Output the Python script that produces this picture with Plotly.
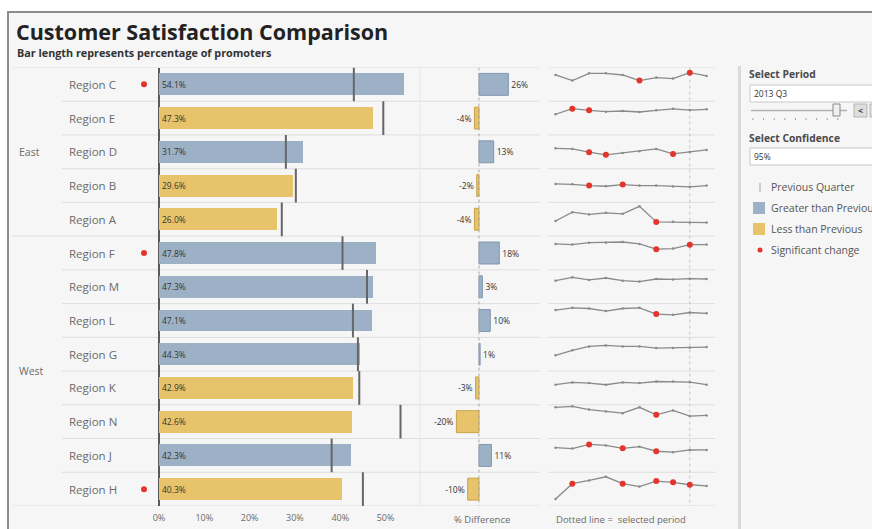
import plotly.graph_objects as go

W, H = 872, 529

# ---------------- data ----------------
regions = ["Region C", "Region E", "Region D", "Region B", "Region A",
           "Region F", "Region M", "Region L", "Region G", "Region K",
           "Region N", "Region J", "Region H"]
groups = ["East", "West"]
group_sizes = [5, 8]
current = [54.1, 47.3, 31.7, 29.6, 26.0, 47.8, 47.3, 47.1, 44.3, 42.9, 42.6, 42.3, 40.3]
previous = [43.0, 49.5, 28.0, 30.2, 27.1, 40.5, 45.9, 42.8, 43.9, 44.2, 53.3, 38.1, 45.0]
pct_diff = [26, -4, 13, -2, -4, 18, 3, 10, 1, -3, -20, 11, -10]
significant = [True, False, False, False, False, True, False, False, False, False, False, False, True]
quarters = ["2011 Q3", "2011 Q4", "2012 Q1", "2012 Q2", "2012 Q3",
            "2012 Q4", "2013 Q1", "2013 Q2", "2013 Q3", "2013 Q4"]
selected_quarter = "2013 Q3"
trend_C = [49.8, 39.3, 52.9, 52.9, 49.8, 39.3, 44.9, 43.0, 54.1, 48.0]
trend_E = [39.3, 49.8, 46.7, 44.2, 45.5, 43.6, 46.7, 49.5, 47.3, 48.6]
trend_D = [38.7, 37.5, 31.3, 26.3, 30.0, 33.1, 37.5, 28.0, 31.7, 35.6]
trend_B = [35.0, 34.4, 31.9, 30.7, 33.8, 31.9, 31.9, 30.2, 29.6, 31.9]
trend_A = [28.8, 45.5, 41.2, 44.2, 42.4, 56.6, 27.0, 27.1, 26.0, 25.7]
trend_F = [49.2, 48.0, 51.7, 51.7, 52.9, 49.2, 39.3, 40.5, 47.8, 48.0]
trend_M = [43.6, 49.8, 44.9, 48.6, 43.6, 41.8, 46.7, 45.9, 47.3, 46.7]
trend_L = [51.7, 56.0, 54.7, 49.8, 54.7, 56.0, 44.2, 42.8, 47.1, 45.5]
trend_G = [30.0, 39.3, 46.7, 48.6, 46.7, 46.7, 43.6, 43.9, 44.3, 45.5]
trend_K = [38.1, 42.4, 41.2, 38.1, 42.4, 41.2, 44.2, 44.2, 42.9, 38.1]
trend_N = [59.3, 61.1, 55.0, 51.3, 48.2, 59.3, 45.1, 53.3, 42.6, 43.9]
trend_J = [46.7, 44.9, 52.9, 51.0, 45.5, 48.6, 39.9, 38.1, 42.3, 42.4]
trend_H = [13.4, 42.4, 48.6, 55.4, 42.4, 36.8, 47.3, 45.0, 40.3, 38.1]
trends = [trend_C, trend_E, trend_D, trend_B, trend_A, trend_F, trend_M,
          trend_L, trend_G, trend_K, trend_N, trend_J, trend_H]
sig_C = [5, 8]
sig_E = [1, 2]
sig_D = [2, 3, 7]
sig_B = [2, 4]
sig_A = [6]
sig_F = [6, 8]
sig_M = []
sig_L = [6]
sig_G = []
sig_K = []
sig_N = [6]
sig_J = [2, 4, 6]
sig_H = [1, 4, 6, 7, 8]
trend_sig = [sig_C, sig_E, sig_D, sig_B, sig_A, sig_F, sig_M,
             sig_L, sig_G, sig_K, sig_N, sig_J, sig_H]
x_ticks = [0, 10, 20, 30, 40, 50]

# ---------------- style ----------------
FONT = "Open Sans"
BLUE = "#9db1c6"
YELLOW = "#e7c46b"
BLUE_EDGE = "#7f97b0"
YELLOW_EDGE = "#c9a347"
RED = "#e2362c"
GRID = "#dedede"
TXT = "#6b6b6b"

def X(px):
    return px / W

def Y(py):
    return 1 - py / H

n = len(regions)
top_px, bot_px = 67.5, 506.0
rh = (bot_px - top_px) / n
idx = list(range(n))

fig = go.Figure()

colors = [BLUE if d > 0 else YELLOW for d in pct_diff]
edges = [BLUE_EDGE if d > 0 else YELLOW_EDGE for d in pct_diff]

# main bars
fig.add_trace(go.Bar(
    x=current, y=idx, orientation="h", width=0.65,
    marker=dict(color=colors, line=dict(width=0)),
    text=[f"{v:.1f}%" for v in current], textposition="inside",
    insidetextanchor="start", textfont=dict(size=8.5, color="#333", family=FONT),
    xaxis="x", yaxis="y", hoverinfo="skip", showlegend=False))

# significance dots
sig_y = [i for i in idx if significant[i]]
fig.add_trace(go.Scatter(
    x=[0] * len(sig_y), y=sig_y, mode="markers",
    marker=dict(color=RED, size=6), xaxis="x3", yaxis="y",
    hoverinfo="skip", showlegend=False))

# diff bars
fig.add_trace(go.Bar(
    x=pct_diff, y=idx, orientation="h", width=0.65,
    marker=dict(color=colors, line=dict(width=1, color=edges)),
    text=[f"{d:d}%" for d in pct_diff], textposition="outside",
    textfont=dict(size=8.5, color="#333", family=FONT), cliponaxis=False,
    xaxis="x2", yaxis="y", hoverinfo="skip", showlegend=False))

# sparklines
layout_axes = {}
for i in idx:
    ya = f"y{i + 2}"
    fig.add_trace(go.Scatter(
        x=quarters, y=trends[i], mode="lines+markers",
        line=dict(color="#8a8a8a", width=1.3),
        marker=dict(size=2.5, color="#8a8a8a"),
        xaxis="x4", yaxis=ya, hoverinfo="skip", showlegend=False))
    sx = [quarters[k] for k in trend_sig[i]]
    sy = [trends[i][k] for k in trend_sig[i]]
    fig.add_trace(go.Scatter(
        x=sx, y=sy, mode="markers", marker=dict(color=RED, size=6),
        xaxis="x4", yaxis=ya, hoverinfo="skip", showlegend=False,
        cliponaxis=False))
    t = top_px + i * rh
    layout_axes[f"yaxis{i + 2}"] = dict(
        domain=[Y(t + rh), Y(t)], range=[0, 64], anchor="x4",
        visible=False, fixedrange=True)

shapes = []
# background panel
shapes.append(dict(type="rect", xref="paper", yref="paper", x0=X(8), x1=1.02,
                   y0=-0.02, y1=Y(12), fillcolor="#f6f6f6", line=dict(width=0), layer="below"))
shapes.append(dict(type="line", xref="paper", yref="paper", x0=X(7), x1=1.02,
                   y0=Y(12), y1=Y(12), line=dict(color="#8c8c8c", width=2)))
shapes.append(dict(type="line", xref="paper", yref="paper", x0=X(8), x1=X(8),
                   y0=Y(12), y1=-0.02, line=dict(color="#8c8c8c", width=2)))
# right panel divider
shapes.append(dict(type="line", xref="paper", yref="paper", x0=X(739.5), x1=X(739.5),
                   y0=Y(66), y1=-0.02, line=dict(color="#dadada", width=3)))

# row separators
bounds = [-0.5]
acc = 0
for s in group_sizes:
    acc += s
    bounds.append(acc - 0.5)
for b in [k - 0.5 for k in range(n + 1)]:
    x0 = X(12) if b in bounds else X(62)
    shapes.append(dict(type="line", xref="paper", yref="y", x0=x0, x1=X(540),
                       y0=b, y1=b, line=dict(color=GRID, width=1), layer="below"))
    shapes.append(dict(type="line", xref="paper", yref="y", x0=X(548), x1=X(715),
                       y0=b, y1=b, line=dict(color=GRID, width=1), layer="below"))

# previous quarter reference lines
for i in idx:
    shapes.append(dict(type="line", xref="x", yref="y", x0=previous[i], x1=previous[i],
                       y0=i - 0.5, y1=i + 0.5, line=dict(color="#666", width=2)))

# diff zero line (dotted)
shapes.append(dict(type="line", xref="x2", yref="y", x0=0, x1=0, y0=-0.5, y1=n - 0.5 + 0.15,
                   line=dict(color="#a8a8a8", width=1, dash="dot")))
# selected period dotted line
sel = quarters.index(selected_quarter)
shapes.append(dict(type="line", xref="x4", yref="y", x0=sel, x1=sel, y0=-0.5, y1=n - 0.5,
                   line=dict(color="#c4c4c4", width=1, dash="dot"), layer="below"))
# faint divider between bars and diff
shapes.append(dict(type="line", xref="paper", yref="y", x0=X(420), x1=X(420), y0=-0.5, y1=n - 0.5,
                   line=dict(color="#e6e6e6", width=1), layer="below"))

annotations = []
annotations.append(dict(text="<b>Customer Satisfaction Comparison</b>", x=X(14), y=Y(31),
                        xref="paper", yref="paper", xanchor="left", yanchor="middle",
                        showarrow=False, font=dict(size=21.5, color="#222", family=FONT)))
annotations.append(dict(text="<b>Bar length represents percentage of promoters</b>", x=X(15), y=Y(52),
                        xref="paper", yref="paper", xanchor="left", yanchor="middle",
                        showarrow=False, font=dict(size=10.8, color="#333", family=FONT)))
# region labels
for i, r in enumerate(regions):
    annotations.append(dict(text=r, x=X(67), y=i, xref="paper", yref="y",
                            xanchor="left", yanchor="middle", showarrow=False,
                            font=dict(size=11.5, color=TXT, family=FONT)))
# group labels
start = 0
for g, s in zip(groups, group_sizes):
    annotations.append(dict(text=g, x=X(17), y=start + (s - 1) / 2, xref="paper", yref="y",
                            xanchor="left", yanchor="middle", showarrow=False,
                            font=dict(size=10.5, color=TXT, family=FONT)))
    start += s
# bottom labels
annotations.append(dict(text="% Difference", x=X(482), y=Y(519), xref="paper", yref="paper",
                        xanchor="center", yanchor="middle", showarrow=False,
                        font=dict(size=9.5, color=TXT, family=FONT)))
annotations.append(dict(text="Dotted line =  selected period", x=X(621), y=Y(519), xref="paper",
                        yref="paper", xanchor="center", yanchor="middle", showarrow=False,
                        font=dict(size=9.5, color=TXT, family=FONT)))

# right panel controls
def label(text, px, py, size=9.5, color="#555", bold=False):
    annotations.append(dict(text=f"<b>{text}</b>" if bold else text, x=X(px), y=Y(py),
                            xref="paper", yref="paper", xanchor="left", yanchor="middle",
                            showarrow=False, font=dict(size=size, color=color, family=FONT)))

label("Select Period", 747, 74, 10.3, "#4a4a4a", True)
shapes.append(dict(type="rect", xref="paper", yref="paper", x0=X(750), x1=1.05, y0=Y(102), y1=Y(85),
                   fillcolor="white", line=dict(color="#c8c8c8", width=1)))
label(selected_quarter, 752, 93.5, 8.5, "#333")
shapes.append(dict(type="line", xref="paper", yref="paper", x0=X(751), x1=X(847), y0=Y(110.5), y1=Y(110.5),
                   line=dict(color="#b0b0b0", width=1.5)))
shapes.append(dict(type="rect", xref="paper", yref="paper", x0=X(833), x1=X(840), y0=Y(116), y1=Y(104),
                   fillcolor="#f0f0f0", line=dict(color="#8a8a8a", width=1)))
shapes.append(dict(type="rect", xref="paper", yref="paper", x0=X(854), x1=X(867), y0=Y(117), y1=Y(104),
                   fillcolor="#dedede", line=dict(color="#b5b5b5", width=1)))
shapes.append(dict(type="rect", xref="paper", yref="paper", x0=X(870), x1=X(883), y0=Y(117), y1=Y(104),
                   fillcolor="#dedede", line=dict(color="#b5b5b5", width=1)))
annotations.append(dict(text="<b>&lt;</b>", x=X(860.5), y=Y(110.5), xref="paper", yref="paper",
                        xanchor="center", yanchor="middle", showarrow=False,
                        font=dict(size=9, color="#444", family=FONT)))
for k in range(9):
    tx = 753 + k * 10.6
    shapes.append(dict(type="line", xref="paper", yref="paper", x0=X(tx), x1=X(tx), y0=Y(118), y1=Y(120),
                       line=dict(color="#a0a0a0", width=1)))
label("Select Confidence", 747, 138, 10.3, "#4a4a4a", True)
shapes.append(dict(type="rect", xref="paper", yref="paper", x0=X(750), x1=1.05, y0=Y(165), y1=Y(148),
                   fillcolor="white", line=dict(color="#c8c8c8", width=1)))
label("95%", 752, 156.5, 8.5, "#333")
# legend
shapes.append(dict(type="line", xref="paper", yref="paper", x0=X(760), x1=X(760), y0=Y(192), y1=Y(183),
                   line=dict(color="#a0a0a0", width=1)))
label("Previous Quarter", 769, 187.5, 10.5, "#555")
shapes.append(dict(type="rect", xref="paper", yref="paper", x0=X(753), x1=X(765), y0=Y(214), y1=Y(202),
                   fillcolor=BLUE, line=dict(width=0)))
label("Greater than Previous", 769, 208, 10.5, "#555")
shapes.append(dict(type="rect", xref="paper", yref="paper", x0=X(753), x1=X(765), y0=Y(235), y1=Y(223),
                   fillcolor=YELLOW, line=dict(width=0)))
label("Less than Previous", 769, 229, 10.5, "#555")
shapes.append(dict(type="circle", xref="paper", yref="paper", x0=X(757.5), x1=X(762.5), y0=Y(252.5), y1=Y(247.5),
                   fillcolor=RED, line=dict(width=0)))
label("Significant change", 769, 250, 10.5, "#555")

fig.update_layout(
    width=W, height=H, margin=dict(l=0, r=0, t=0, b=0),
    paper_bgcolor="white", plot_bgcolor="rgba(0,0,0,0)",
    font=dict(family=FONT), bargap=0, showlegend=False,
    xaxis=dict(domain=[X(140), X(420)], range=[-4.19, 57.6], anchor="y",
               tickvals=x_ticks, ticktext=[f"{t}%" for t in x_ticks],
               tickfont=dict(size=9, color=TXT, family=FONT), ticks="",
               showgrid=False, showline=False, zeroline=True, zerolinecolor="#5a5a5a",
               zerolinewidth=1.5, ticklabelstandoff=5, fixedrange=True),
    yaxis=dict(domain=[Y(bot_px), Y(top_px)], range=[n - 0.5, -0.5], visible=False,
               fixedrange=True),
    xaxis2=dict(domain=[X(420), X(540)], range=[-52.2, 54], anchor="y", visible=False,
                fixedrange=True),
    xaxis3=dict(domain=[X(134), X(154)], range=[-1, 1], anchor="y", visible=False,
                fixedrange=True),
    xaxis4=dict(domain=[X(548), X(715)], range=[-0.45, 9.5], anchor="y2", visible=False,
                type="category", fixedrange=True),
    shapes=shapes, annotations=annotations,
    **layout_axes,
)

fig.write_html("out.html", config={"displayModeBar": False, "staticPlot": True},
               post_script="document.body.style.margin='0';document.body.style.overflow='hidden';")
